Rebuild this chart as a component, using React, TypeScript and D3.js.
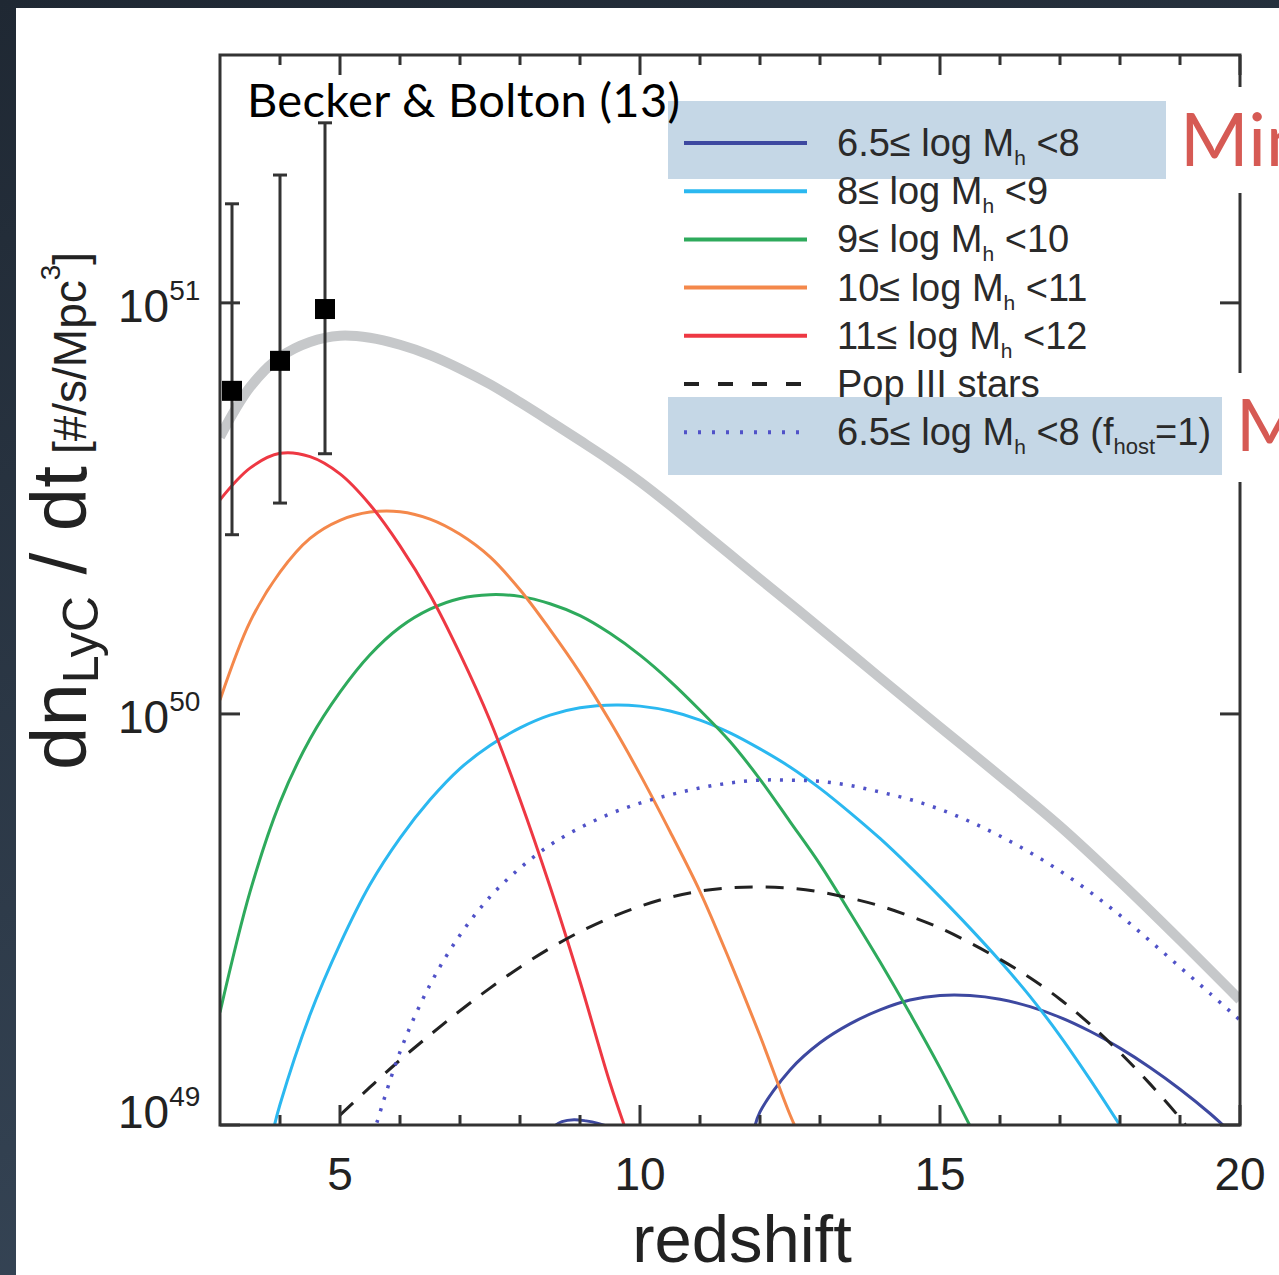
import * as d3 from 'd3';

// plot frame in page pixels
const W = 1279;
const H = 1275;
const PL = 220, PR = 1240, PT = 55, PB = 1125;

// all series: redshift grid + log10(dn_LyC/dt)
const zGray = [3, 3.5, 4, 4.5, 5, 5.5, 6, 6.5, 7, 7.5, 8, 8.5, 9, 9.5, 10, 10.5, 11, 11.5, 12, 13, 14, 15, 16, 17, 18, 19, 20];
const gray = [50.674, 50.795, 50.868, 50.905, 50.92, 50.915, 50.898, 50.873, 50.84, 50.802, 50.758, 50.712, 50.665, 50.617, 50.565, 50.508, 50.448, 50.388, 50.328, 50.209, 50.088, 49.968, 49.849, 49.727, 49.592, 49.45, 49.304];

const zRed = [3, 3.5, 4, 4.5, 5, 5.5, 6, 6.5, 7, 7.5, 8, 8.5, 9, 9.5, 9.8];
const red = [50.521, 50.598, 50.634, 50.626, 50.584, 50.509, 50.409, 50.29, 50.146, 49.984, 49.792, 49.58, 49.349, 49.102, 48.973];

const zOrange = [3, 3.5, 4, 4.5, 5, 5.5, 6, 6.5, 7, 7.5, 8, 8.5, 9, 9.5, 10, 10.5, 11, 11.5, 12, 12.5, 12.7];
const orange = [50.034, 50.224, 50.345, 50.427, 50.471, 50.491, 50.492, 50.474, 50.437, 50.382, 50.302, 50.205, 50.1, 49.982, 49.853, 49.714, 49.568, 49.398, 49.217, 49.025, 48.96];

const zGreen = [3, 3.5, 4, 4.5, 5, 5.5, 6, 6.5, 7, 7.5, 8, 8.5, 9, 9.5, 10, 10.5, 11, 11.5, 12, 12.5, 13, 13.5, 14, 14.5, 15, 15.5];
const green = [49.274, 49.567, 49.785, 49.939, 50.053, 50.144, 50.211, 50.255, 50.281, 50.29, 50.286, 50.268, 50.239, 50.196, 50.143, 50.08, 50.009, 49.933, 49.841, 49.738, 49.634, 49.517, 49.397, 49.271, 49.139, 48.998];

const zCyan = [3.9, 4, 4.5, 5, 5.5, 6, 6.5, 7, 7.5, 8, 8.5, 9, 9.6, 10, 10.5, 11, 11.5, 12, 12.5, 13, 13.5, 14, 14.5, 15, 15.5, 16, 16.5, 17, 17.5, 18];
const cyan = [48.995, 49.05, 49.268, 49.44, 49.585, 49.698, 49.791, 49.867, 49.923, 49.966, 49.997, 50.015, 50.022, 50.019, 50.007, 49.985, 49.954, 49.915, 49.871, 49.819, 49.76, 49.697, 49.628, 49.555, 49.479, 49.399, 49.313, 49.217, 49.111, 48.999];

const zNavy = [11.9, 12, 12.5, 13, 13.5, 14, 14.5, 15, 15.5, 16, 16.5, 17, 17.5, 18, 18.5, 19, 19.5, 19.75];
const navy = [48.988, 49.032, 49.134, 49.2, 49.246, 49.28, 49.304, 49.315, 49.315, 49.306, 49.288, 49.262, 49.228, 49.187, 49.14, 49.087, 49.028, 48.995];
const zNavyBump = [8.5, 8.7, 8.9, 9.1, 9.3, 9.6];
const navyBump = [48.99, 49.008, 49.013, 49.01, 49.004, 48.99];

const zPop3 = [5, 5.5, 6, 6.5, 7, 7.5, 8, 8.5, 9, 9.5, 10, 10.5, 11, 11.5, 12, 12.5, 13, 13.5, 14, 14.5, 15, 15.5, 16, 16.5, 17, 17.5, 18, 18.5, 19, 19.1];
const pop3 = [49.024, 49.092, 49.158, 49.219, 49.278, 49.333, 49.384, 49.43, 49.47, 49.504, 49.532, 49.554, 49.569, 49.577, 49.579, 49.576, 49.567, 49.552, 49.533, 49.508, 49.479, 49.443, 49.403, 49.358, 49.306, 49.245, 49.176, 49.1, 49.017, 48.998];

const zHost = [5.5, 6, 6.5, 7, 7.5, 8, 8.5, 9, 9.5, 10, 10.5, 11, 11.5, 12, 12.5, 13, 13.5, 14, 14.5, 15, 15.5, 16, 16.5, 17, 17.5, 18, 18.5, 19, 19.5, 20];
const host = [48.95, 49.178, 49.341, 49.462, 49.555, 49.625, 49.681, 49.723, 49.757, 49.783, 49.803, 49.82, 49.832, 49.839, 49.839, 49.836, 49.826, 49.81, 49.792, 49.768, 49.738, 49.703, 49.663, 49.618, 49.567, 49.51, 49.448, 49.384, 49.32, 49.255];

// Becker & Bolton (2013) points
const zObs = [3.2, 4.0, 4.75];
const obs = [50.786, 50.859, 50.985];
const obsHi = [51.241, 51.311, 51.438];
const obsLo = [50.436, 50.513, 50.633];

const xMinor = [4, 6, 7, 8, 9, 11, 12, 13, 14, 16, 17, 18, 19];
const xMajor = [5, 10, 15, 20];
const yMajor = [49, 50, 51];

const legendRows = [
  { pre: '6.5≤ log M', post: ' <8', color: '#3d48a0', dash: '' },
  { pre: '8≤ log M', post: ' <9', color: '#2bb8f0', dash: '' },
  { pre: '9≤ log M', post: ' <10', color: '#2eaa5c', dash: '' },
  { pre: '10≤ log M', post: ' <11', color: '#f4884b', dash: '' },
  { pre: '11≤ log M', post: ' <12', color: '#ee3843', dash: '' },
  { pre: 'Pop III stars', post: '', color: '#222', dash: '15 19' },
  { pre: '6.5≤ log M', post: ' <8 (f', color: '#5052c8', dash: '3 11' },
];

const FONT = '"Liberation Sans", Arial, Helvetica, sans-serif';

export default function App() {
  const x = d3.scaleLinear().domain([3, 20]).range([PL, PR]);
  const y = d3.scaleLog().domain([1e49, 10 ** 51.603]).range([PB, PT]);
  const line = d3
    .line<[number, number]>()
    .x((d) => x(d[0]))
    .y((d) => y(10 ** d[1]))
    .curve(d3.curveCatmullRom.alpha(0.5));
  const path = (zs: number[], vs: number[]) => line(zs.map((z, i) => [z, vs[i]]) as [number, number][]) || '';

  const curves = [
    { z: zGray, v: gray, color: '#c6c8ca', w: 10, dash: '' },
    { z: zNavyBump, v: navyBump, color: '#3d48a0', w: 3, dash: '' },
    { z: zNavy, v: navy, color: '#3d48a0', w: 3, dash: '' },
    { z: zCyan, v: cyan, color: '#2bb8f0', w: 3, dash: '' },
    { z: zGreen, v: green, color: '#2eaa5c', w: 3, dash: '' },
    { z: zOrange, v: orange, color: '#f4884b', w: 3, dash: '' },
    { z: zRed, v: red, color: '#ee3843', w: 3, dash: '' },
    { z: zPop3, v: pop3, color: '#222', w: 3, dash: '18 13' },
    { z: zHost, v: host, color: '#5052c8', w: 3.5, dash: '3 9' },
  ];

  return (
    <svg width={W} height={H} style={{ position: 'absolute', left: 0, top: 0 }} fontFamily={FONT}>
      <defs>
        <linearGradient id="bg" x1="0" y1="0" x2="0.3" y2="1">
          <stop offset="0" stopColor="#1f2833" />
          <stop offset="1" stopColor="#364556" />
        </linearGradient>
        <clipPath id="plot">
          <rect x={PL} y={PT} width={PR - PL} height={PB - PT} />
        </clipPath>
      </defs>
      <rect width={W} height={H} fill="url(#bg)" />
      <rect x={16} y={8} width={W - 16} height={H - 8} fill="#fff" />

      {/* curves */}
      <g clipPath="url(#plot)" fill="none">
        {curves.map((c, i) => (
          <path key={i} d={path(c.z, c.v)} stroke={c.color} strokeWidth={c.w} strokeDasharray={c.dash || undefined} />
        ))}
      </g>

      {/* observations */}
      <g stroke="#333" strokeWidth={3}>
        {zObs.map((z, i) => (
          <g key={i}>
            <line x1={x(z)} x2={x(z)} y1={y(10 ** obsHi[i])} y2={y(10 ** obsLo[i])} />
            <line x1={x(z) - 7} x2={x(z) + 7} y1={y(10 ** obsHi[i])} y2={y(10 ** obsHi[i])} />
            <line x1={x(z) - 7} x2={x(z) + 7} y1={y(10 ** obsLo[i])} y2={y(10 ** obsLo[i])} />
          </g>
        ))}
      </g>
      {zObs.map((z, i) => (
        <rect key={i} x={x(z) - 10} y={y(10 ** obs[i]) - 10} width={20} height={20} fill="#000" />
      ))}

      {/* frame and ticks */}
      <g stroke="#333" strokeWidth={3} fill="none">
        <rect x={PL} y={PT} width={PR - PL} height={PB - PT} />
        {xMinor.map((t) => (
          <g key={t}>
            <line x1={x(t)} x2={x(t)} y1={PB} y2={PB - 10} />
            <line x1={x(t)} x2={x(t)} y1={PT} y2={PT + 10} />
          </g>
        ))}
        {xMajor.map((t) => (
          <g key={t}>
            <line x1={x(t)} x2={x(t)} y1={PB} y2={PB - 20} />
            <line x1={x(t)} x2={x(t)} y1={PT} y2={PT + 20} />
          </g>
        ))}
        {yMajor.map((e) => (
          <g key={e}>
            <line x1={PL} x2={PL + 20} y1={y(10 ** e)} y2={y(10 ** e)} />
            <line x1={PR} x2={PR - 20} y1={y(10 ** e)} y2={y(10 ** e)} />
          </g>
        ))}
      </g>

      {/* tick labels */}
      <g fill="#222" fontSize={46}>
        {xMajor.map((t) => (
          <text key={t} x={x(t)} y={1190} textAnchor="middle">
            {t}
          </text>
        ))}
        {yMajor.map((e) => (
          <text key={e} x={118} y={Math.min(y(10 ** e) + 19, PB + 3)}>
            10
            <tspan fontSize={28} dy={-22}>
              {e}
            </tspan>
          </text>
        ))}
      </g>

      {/* axis titles */}
      <text x={742} y={1262} textAnchor="middle" fontSize={67} fill="#222">
        redshift
      </text>
      <text transform="translate(86,770) rotate(-90)" fill="#222" fontSize={78}>
        dn
        <tspan fontSize={50} dy={12}>
          LyC
        </tspan>
        <tspan dy={-12}> / dt</tspan>
        <tspan fontSize={46} dx={12}>[#/s/Mpc</tspan>
        <tspan fontSize={28} dy={-26}>
          3
        </tspan>
        <tspan fontSize={46} dy={26}>
          ]
        </tspan>
      </text>

      {/* legend with highlight boxes */}
      <rect x={668} y={101} width={498} height={78} fill="#c5d7e6" />
      <rect x={668} y={397} width={554} height={78} fill="#c5d7e6" />
      {legendRows.map((r, i) => {
        const ly = 143 + i * 48.2;
        return (
          <g key={i}>
            <line x1={684} x2={807} y1={ly} y2={ly} stroke={r.color} strokeWidth={4} strokeDasharray={r.dash || undefined} />
            <text x={837} y={ly + 13} fontSize={38} fill="#2a2a2a">
              {r.pre}
              {r.post !== '' && (
                <>
                  <tspan fontSize={21} dy={9}>
                    h
                  </tspan>
                  <tspan dy={-9}>{r.post}</tspan>
                </>
              )}
              {i === 6 && (
                <>
                  <tspan fontSize={22} dy={9}>
                    host
                  </tspan>
                  <tspan dy={-9}>=1)</tspan>
                </>
              )}
            </text>
          </g>
        );
      })}

      <text x={247} y={117} fontFamily="Lato, sans-serif" fontSize={47} textLength={433} fill="#000">
        Becker &amp; Bolton (13)
      </text>

      {/* slide annotations covering the right axis */}
      <rect x={1168} y={87} width={W - 1168} height={106} fill="#fff" />
      <rect x={1224} y={373} width={W - 1224} height={109} fill="#fff" />
      <text x={1180} y={166} fontFamily="Lato, sans-serif" fontSize={74} fill="#d65a54">
        Min
      </text>
      <text x={1236} y={451} fontFamily="Lato, sans-serif" fontSize={72} fill="#d65a54">
        M
      </text>
    </svg>
  );
}
